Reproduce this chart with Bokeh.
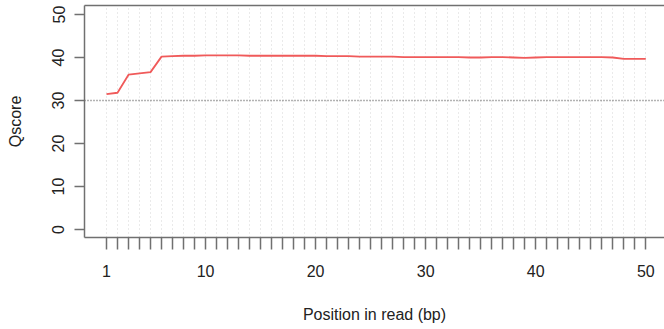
from bokeh.plotting import figure
from bokeh.models import FixedTicker, LinearAxis, Span, Range1d
from bokeh.embed import file_html
from bokeh.resources import INLINE

# Data
positions = list(range(1, 51))
qscores = [31.5, 31.8, 36.0, 36.3, 36.6, 40.2, 40.3, 40.4, 40.4, 40.5,
           40.5, 40.5, 40.5, 40.4, 40.4, 40.4, 40.4, 40.4, 40.4, 40.4,
           40.3, 40.3, 40.3, 40.2, 40.2, 40.2, 40.2, 40.1, 40.1, 40.1,
           40.1, 40.1, 40.1, 40.0, 40.0, 40.1, 40.1, 40.0, 39.9, 40.0,
           40.1, 40.1, 40.1, 40.1, 40.1, 40.1, 40.0, 39.7, 39.7, 39.7]
x_labels = {1: "1", 10: "10", 20: "20", 30: "30", 40: "40", 50: "50"}
y_ticks = [0, 10, 20, 30, 40, 50]
threshold = 30

AX = "#707070"
TXT = "#222222"
FONT = "Liberation Sans"

p = figure(width=664, height=329, output_backend="svg", toolbar_location=None,
           x_range=Range1d(-1.0, 51.7), y_range=Range1d(-1.86, 52.09),
           min_border_left=84, min_border_right=0, min_border_top=5,
           min_border_bottom=92, x_axis_label="Position in read (bp)",
           y_axis_label="Qscore")
p.outline_line_color = None
p.background_fill_color = "white"
p.border_fill_color = "white"

# grid
p.xgrid.ticker = FixedTicker(ticks=positions)
p.xgrid.grid_line_color = "#d4d4d4"
p.xgrid.grid_line_dash = "1 3"
p.xgrid.grid_line_width = 1
p.ygrid.visible = False

# x axis
xa = p.xaxis[0]
xa.ticker = FixedTicker(ticks=positions)
xa.major_label_overrides = {t: x_labels.get(t, "") for t in positions}
xa.major_tick_out = 12
xa.major_tick_in = 0
xa.minor_tick_line_color = None
xa.axis_line_color = AX
xa.axis_line_width = 1.5
xa.major_tick_line_color = AX
xa.major_tick_line_width = 1.5
xa.major_label_text_font = FONT
xa.major_label_text_font_size = "16px"
xa.major_label_text_color = TXT
xa.major_label_standoff = 15
xa.axis_label_text_font = FONT
xa.axis_label_text_font_size = "16px"
xa.axis_label_text_font_style = "normal"
xa.axis_label_text_color = TXT
xa.axis_label_standoff = 26

# y axis
ya = p.yaxis[0]
ya.ticker = FixedTicker(ticks=y_ticks)
ya.major_tick_out = 10
ya.major_tick_in = 0
ya.minor_tick_line_color = None
ya.axis_line_color = AX
ya.axis_line_width = 1.5
ya.major_tick_line_color = AX
ya.major_tick_line_width = 1.5
ya.major_label_orientation = "vertical"
ya.major_label_text_font = FONT
ya.major_label_text_font_size = "16px"
ya.major_label_text_color = TXT
ya.major_label_standoff = 10
ya.axis_label_text_font = FONT
ya.axis_label_text_font_size = "16px"
ya.axis_label_text_font_style = "normal"
ya.axis_label_text_color = TXT
ya.axis_label_standoff = 26

# top border as an axis line
top = LinearAxis(ticker=FixedTicker(ticks=[]), major_tick_out=0, major_tick_in=0,
                 major_label_standoff=0, axis_line_color=AX, axis_line_width=1.5,
                 minor_tick_line_color=None, major_tick_line_color=None)
p.add_layout(top, "above")

# threshold line
p.add_layout(Span(location=threshold, dimension="width", line_color="#666666",
                  line_dash="1 2", line_width=1.5))

p.line(positions, qscores, line_color="#f05a5a", line_width=1.8)

open("out.html", "w").write(file_html(p, INLINE))
